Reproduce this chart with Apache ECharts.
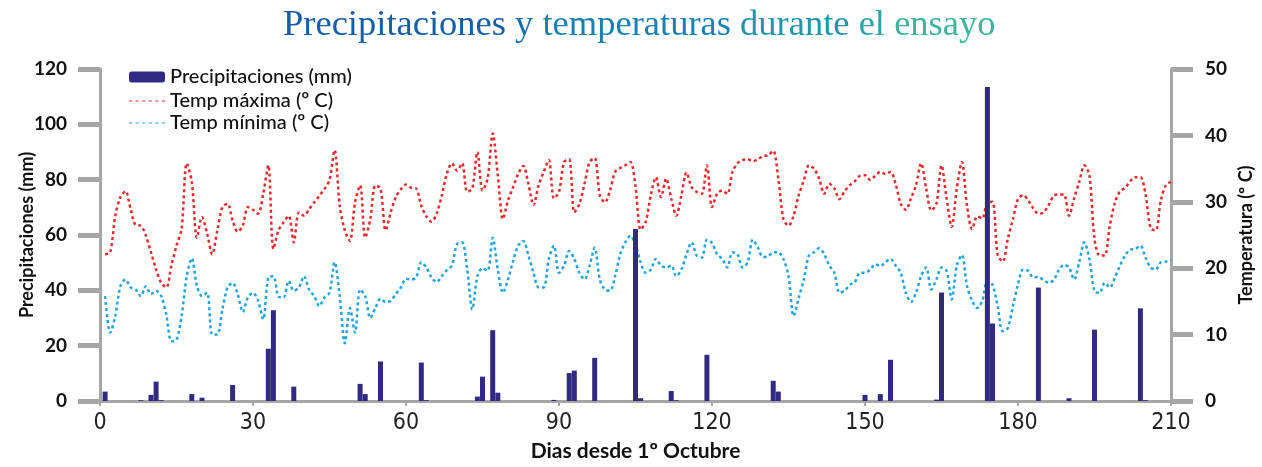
<!DOCTYPE html>
<html>
<head>
<meta charset="utf-8">
<script src="https://cdn.jsdelivr.net/npm/echarts@6/dist/echarts.min.js"></script>
<style>html,body{margin:0;padding:0;background:#fff}#c{width:1262px;height:467px}</style>
</head>
<body>
<div id="c"></div>
<script>
// Precipitation: [day, mm]
const precipDays = [1,8,10,11,12,18,20,26,33,34,38,51,52,55,63,64,74,75,77,78,89,92,93,97,105,106,112,113,119,132,133,150,153,155,164,165,174,175,184,190,195,204,205];
const precipMm   = [3.4,0.3,2.2,7.0,0.3,2.5,1.2,5.8,18.9,32.8,5.2,6.2,2.5,14.3,13.9,0.3,1.6,8.8,25.6,3.0,0.4,10.1,11.0,15.6,62.2,1.0,3.6,0.3,16.7,7.3,3.4,2.2,2.5,14.9,0.5,39.2,113.5,28.0,41.0,1.0,25.8,33.5,0.3];

// Daily temperatures, days 1..210
const tempMax = [22.1,22.4,27.9,30.7,31.6,28.9,26.5,26.4,24.9,22.4,19.8,17.8,17.1,20.4,23.4,25.9,35.8,33.0,24.6,27.7,
25.2,22.1,25.7,29.2,29.7,27.2,25.5,26.4,29.2,28.8,28.2,31.2,35.5,22.9,25.7,26.9,27.9,23.9,28.4,27.9,
28.9,29.9,30.9,31.9,33.3,37.8,29.4,25.7,24.1,29.9,32.5,24.6,27.4,32.5,32.0,25.7,28.4,30.7,31.9,32.6,
32.1,32.0,29.4,27.8,27.0,28.2,30.9,34.2,35.8,34.7,35.8,31.5,32.0,37.5,31.7,33.5,40.3,34.0,27.4,30.2,
32.2,34.2,35.4,32.7,29.5,32.5,34.5,36.3,30.5,31.5,36.0,36.4,28.4,29.7,32.7,36.0,36.6,31.0,29.9,31.7,
34.5,35.1,35.5,36.0,32.3,25.8,27.0,31.0,33.7,30.7,33.5,30.5,27.9,31.0,34.4,32.2,31.5,31.2,35.5,29.2,
31.2,31.7,31.2,34.5,35.8,36.3,36.4,36.1,36.4,36.9,37.0,37.7,33.5,27.4,26.4,27.9,31.0,33.2,35.5,35.0,
33.5,31.2,32.7,32.0,30.4,31.6,32.5,33.1,33.9,34.0,33.3,33.9,34.5,34.2,34.5,32.7,29.7,28.8,30.5,32.5,
35.8,32.0,28.7,29.7,35.5,30.5,26.2,32.0,36.0,29.4,25.9,27.8,27.5,29.9,30.0,22.0,21.0,24.4,27.4,30.4,
31.0,30.2,29.0,28.2,28.4,29.5,30.9,31.1,31.1,27.9,30.5,33.0,35.5,34.0,24.4,21.9,21.9,26.4,29.9,31.6,
32.1,33.1,33.7,33.7,31.2,26.0,25.7,30.2,32.5,33.0];
const tempMin = [15.8,10.3,12.8,17.3,18.3,17.1,16.8,15.8,17.3,16.1,16.6,15.8,13.0,9.0,9.2,12.8,18.8,21.5,17.3,15.8,
16.3,10.0,10.0,13.8,17.1,17.8,16.1,13.4,15.6,16.3,15.1,12.3,18.6,18.8,15.7,15.6,18.1,16.6,17.1,18.8,
16.8,15.8,14.3,15.6,16.3,20.9,15.8,8.7,14.0,10.3,16.8,15.8,12.5,14.0,15.4,14.9,15.1,16.1,17.1,18.4,
18.3,18.6,20.9,20.1,18.6,17.9,18.8,19.7,20.4,23.6,23.9,19.8,13.8,18.8,20.0,19.6,24.6,19.8,16.3,18.3,
21.1,23.4,24.1,21.9,19.3,17.1,17.1,21.4,23.4,19.3,20.4,22.6,21.4,19.3,18.3,20.4,23.1,18.3,16.8,16.6,
18.8,22.1,23.9,24.9,23.5,20.9,19.3,19.8,21.4,20.4,20.1,20.4,18.8,19.8,22.1,23.9,21.9,21.6,24.3,23.8,
22.1,21.4,20.1,22.4,22.1,20.1,20.9,24.3,23.1,21.7,21.8,22.4,22.4,21.4,18.8,12.8,15.5,18.3,21.9,22.4,
23.0,22.1,20.4,19.3,16.3,16.6,17.5,17.9,19.3,19.3,19.8,20.6,20.3,20.9,21.4,20.4,19.3,16.3,14.9,16.3,
18.8,20.1,16.8,18.3,20.1,19.6,15.3,20.4,22.0,17.3,15.1,14.0,15.1,18.1,17.5,14.3,10.5,11.0,14.3,17.6,
19.8,19.6,18.6,18.7,18.2,17.8,18.2,19.7,20.5,20.1,18.3,20.9,23.9,21.4,16.5,16.3,17.8,17.1,18.6,20.4,
21.9,22.8,22.9,23.4,21.6,20.1,19.8,20.9,21.0,21.3];

const seriesNames = ['Precipitaciones (mm)', 'Temp máxima (º C)', 'Temp mínima (º C)'];
const titleWords = ['Precipitaciones', 'y', 'temperaturas', 'durante', 'el', 'ensayo'];
const titleColors = ['#175ea8', '#1670b0', '#1880b2', '#2096ad', '#2aa4a7', '#3db59c'];

const precipData = precipDays.map((d, i) => [d, precipMm[i]]);
const maxData = tempMax.map((v, i) => [i + 1, v]);
const minData = tempMin.map((v, i) => [i + 1, v]);

const TFONT = 'Liberation Serif';
const TSIZE = 36.5;
const rich = {};
titleColors.forEach((c, i) => { rich['w' + i] = { color: c, fontFamily: TFONT, fontSize: TSIZE, fontWeight: 'normal' }; });
const titleText = titleWords.map((w, i) => '{w' + i + '|' + w + '}').join('{w0| }');

const AX = '#a6a6a6';
const FONT = 'Lato';
// dotted legend icon: small dashes spanning the icon width
let dotPath = 'path://';
for (let i = 0; i < 6; i++) { const x = i * 6.2; dotPath += 'M' + x + ',0L' + (x + 3) + ',0L' + (x + 3) + ',1L' + x + ',1Z'; }

const chart = echarts.init(document.getElementById('c'), null, { renderer: 'canvas' });
chart.setOption({
  animation: false,
  backgroundColor: '#fff',
  title: {
    text: titleText, left: 278, top: 2,
    textStyle: { rich: rich, fontFamily: TFONT, fontSize: TSIZE, fontWeight: 'normal' }
  },
  legend: [{
    data: [seriesNames[0]], orient: 'vertical', left: 124, top: 62,
    itemWidth: 36, itemHeight: 11,
    textStyle: { fontFamily: FONT, fontSize: 20, fontWeight: 500, color: '#111' }
  }, {
    data: [{ name: seriesNames[1], icon: dotPath }, { name: seriesNames[2], icon: dotPath }],
    orient: 'vertical', left: 124, top: 86,
    itemWidth: 36, itemHeight: 2.5, itemGap: 2,
    textStyle: { fontFamily: FONT, fontSize: 20, fontWeight: 500, color: '#111' }
  }],
  grid: { left: 100, right: 91, top: 69, bottom: 66, containLabel: false, outerBoundsMode: 'none' },
  xAxis: {
    type: 'value', min: 0, max: 210, interval: 30,
    name: 'Dias desde 1º Octubre', nameLocation: 'middle', nameGap: 40, nameMoveOverlap: false,
    nameTextStyle: { fontFamily: FONT, fontSize: 21, fontWeight: 'bold', color: '#111' },
    axisLine: { lineStyle: { color: AX, width: 3 } },
    axisTick: { lineStyle: { color: AX, width: 2 }, length: 5 },
    axisLabel: { fontFamily: "'DejaVu Sans Condensed', 'DejaVu Sans', sans-serif", fontSize: 23, color: '#222', margin: 11 },
    splitLine: { show: false }
  },
  yAxis: [{
    type: 'value', min: 0, max: 120, interval: 20, position: 'left',
    name: 'Precipitaciones (mm)', nameLocation: 'middle', nameGap: 64, nameRotate: 90, nameMoveOverlap: false,
    nameTextStyle: { fontFamily: FONT, fontSize: 18, fontWeight: 'bold', color: '#111' },
    axisLine: { show: true, lineStyle: { color: AX, width: 3 } },
    axisTick: { show: true, length: 22, lineStyle: { color: AX, width: 5 } },
    axisLabel: { fontFamily: FONT, fontSize: 19, fontWeight: 'bold', color: '#111', margin: 33 },
    splitLine: { show: false }
  }, {
    type: 'value', min: 0, max: 50, interval: 10, position: 'right',
    name: 'Temperatura (º C)', nameLocation: 'middle', nameGap: 66, nameRotate: 90, nameMoveOverlap: false,
    nameTextStyle: { fontFamily: FONT, fontSize: 18, fontWeight: 'bold', color: '#111' },
    axisLine: { show: true, lineStyle: { color: AX, width: 3 } },
    axisTick: { show: true, length: 22, lineStyle: { color: AX, width: 5 } },
    axisLabel: { fontFamily: FONT, fontSize: 19, fontWeight: 'bold', color: '#111', margin: 34 },
    splitLine: { show: false }
  }],
  series: [{
    name: seriesNames[0], type: 'bar', yAxisIndex: 0, data: precipData,
    barWidth: 5, itemStyle: { color: '#302a82' }, z: 5
  }, {
    name: seriesNames[1], type: 'line', yAxisIndex: 1, data: maxData,
    smooth: 0.3, symbol: 'none', showSymbol: false,
    lineStyle: { color: '#e52a2f', width: 2.5, type: [3, 3] }, itemStyle: { color: '#e52a2f' }, z: 3
  }, {
    name: seriesNames[2], type: 'line', yAxisIndex: 1, data: minData,
    smooth: 0.3, symbol: 'none', showSymbol: false,
    lineStyle: { color: '#21a4dd', width: 2.5, type: [3, 3] }, itemStyle: { color: '#21a4dd' }, z: 3
  }]
});
</script>
</body>
</html>
